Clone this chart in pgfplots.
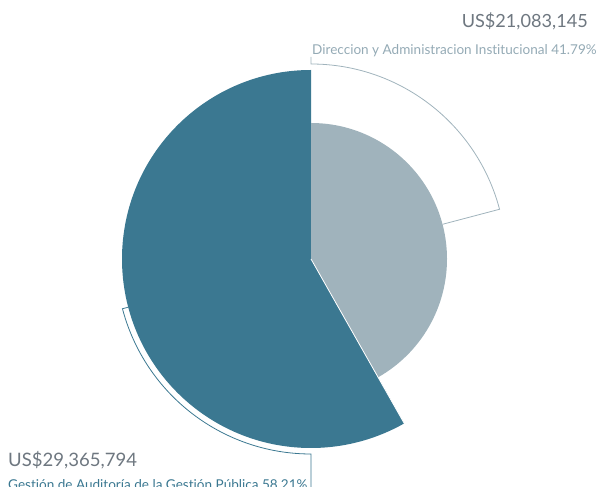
\documentclass[border=0pt]{standalone}
\usepackage{pgfplots}
\pgfplotsset{compat=1.18}
\usepackage{fontspec}
\setmainfont{Lato}[Ligatures={NoCommon,NoDiscretionary}]
\definecolor{dark}{HTML}{3B7891}
\definecolor{light}{HTML}{A0B3BC}
\definecolor{amt}{HTML}{6E7780}
\definecolor{lab}{HTML}{94AAB5}
% values (US$) and shares (%)
\def\valA{21083145}\def\pctA{41.79}
\def\valB{29365794}\def\pctB{58.21}
\begin{document}
\begin{tikzpicture}
\pgfmathsetmacro{\angA}{3.6*\pctA}
\pgfmathsetmacro{\endA}{90-\angA}
\pgfmathsetmacro{\midA}{90-\angA/2}
\pgfmathsetmacro{\endB}{90+3.6*\pctB}
\pgfmathsetmacro{\midB}{90+1.8*\pctB}
\begin{axis}[name=ax, scale only axis, width=602bp, height=487bp,
  xmin=0, xmax=602, ymin=0, ymax=487, hide axis, clip=false]
% large slice
\fill[dark] (axis cs:311,228) -- ++(90:189bp) arc[start angle=90, end angle=\endB, radius=189bp] -- cycle;
% small slice
\fill[light] (axis cs:311,228) -- ++(90:136bp) arc[start angle=90, end angle=\endA, radius=136bp] -- cycle;
\draw[white, line width=0.8pt] (axis cs:311,228) -- ++(\endA:190bp);
% outline arcs
\draw[light, line width=0.8pt] (axis cs:311,430) -- (axis cs:311,423) arc[start angle=90, end angle=\midA, radius=195bp] -- ++(\midA+180:59bp);
\draw[dark, line width=0.8pt] (axis cs:311,228) ++(\midB:189bp) -- ++(\midB:6bp) arc[start angle=\midB, end angle=270, radius=195bp] -- (axis cs:311,-5);
% labels
\node[anchor=base east, font=\fontsize{18.2}{18}\selectfont, text=amt, inner sep=0pt] at (axis cs:588,459) {US\$21,083,145};
\node[anchor=base west, font=\fontsize{13.6}{13}\selectfont, text=lab, inner sep=0pt] at (axis cs:312,432) {Direccion y Administracion Institucional 41.79\%};
\node[anchor=base west, font=\fontsize{18.6}{18}\selectfont, text=amt, inner sep=0pt] at (axis cs:8,21) {US\$29,365,794};
\node[anchor=base west, font=\fontsize{13.6}{13}\selectfont, text=dark, inner sep=0pt] at (axis cs:8,-2) {Gestión de Auditoría de la Gestión Pública 58.21\%};
\end{axis}
\pgfresetboundingbox
\useasboundingbox (ax.south west) rectangle (ax.north east);
\end{tikzpicture}
\end{document}
